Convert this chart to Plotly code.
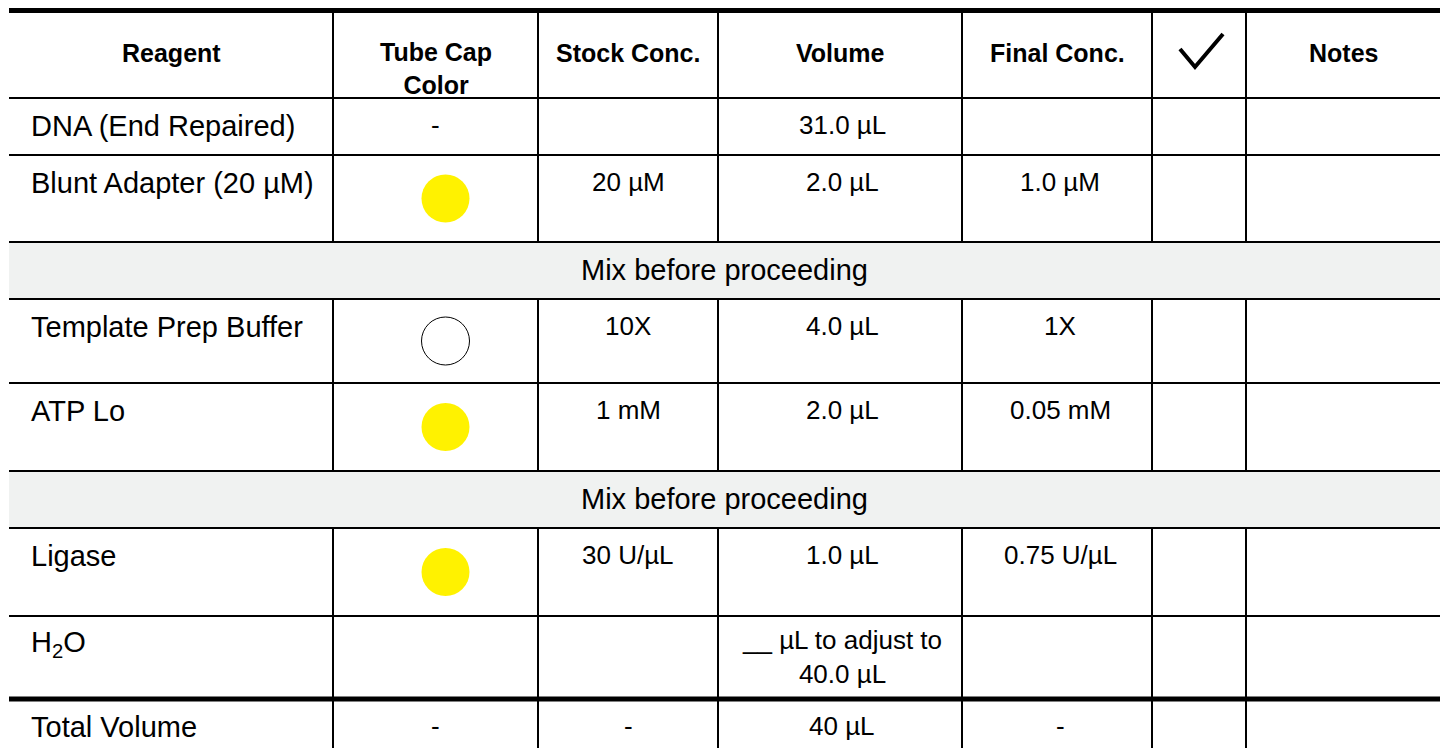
import plotly.graph_objects as go

# table content
headers = ["<b>Reagent</b>", "<b>Tube Cap<br>Color</b>", "<b>Stock Conc.</b>", "<b>Volume</b>",
           "<b>Final Conc.</b>", "check", "<b>Notes</b>"]
reagents = ["DNA (End Repaired)", "Blunt Adapter (20 µM)", "Template Prep Buffer", "ATP Lo",
            "Ligase", "H<sub>2</sub>O", "Total Volume"]
cap_colors = ["-", "#FFF200", "#FFFFFF", "#FFF200", "#FFF200", "", "-"]
stock_conc = ["", "20 µM", "10X", "1 mM", "30 U/µL", "", "-"]
volumes = ["31.0 µL", "2.0 µL", "4.0 µL", "2.0 µL", "1.0 µL", "__ µL to adjust to<br>40.0 µL", "40 µL"]
final_conc = ["", "1.0 µM", "1X", "0.05 mM", "0.75 U/µL", "", "-"]
mix_note = "Mix before proceeding"
mix_after = [1, 3]  # a "mix" row follows these reagents

# geometry (pixels)
W, H = 1440, 748
col_edges = [9, 333, 538, 718, 962, 1152, 1246, 1440]
table_top = 13
header_height = 85
row_heights = [57, 87, 84, 88, 88, 83, 60]
mix_height = 57

FONT = "Liberation Sans, Arial, sans-serif"
LINE = "#000000"
MIX_FILL = "#F0F2F1"

fig = go.Figure()
shapes = []
annotations = []


def col_center(i):
    return (col_edges[i] + col_edges[i + 1]) / 2


def hline(y, width):
    shapes.append(dict(type="line", x0=col_edges[0], x1=col_edges[-1], y0=y, y1=y,
                       line=dict(color=LINE, width=width)))


def vlines(y0, y1):
    for x in col_edges[1:-1]:
        shapes.append(dict(type="line", x0=x, x1=x, y0=y0, y1=y1,
                           line=dict(color=LINE, width=2)))


def text(x, y, s, size, xanchor="center", yanchor="middle"):
    annotations.append(dict(x=x, y=y, text=s, showarrow=False, xanchor=xanchor, yanchor=yanchor,
                            font=dict(family=FONT, size=size, color="#000000"), align="center"))


# header
y = table_top
hline(y - 2.5, 5)
vlines(y, y + header_height)
for i, h in enumerate(headers):
    if h == "check":
        # tick icon in the "done" column header
        cx, cy = col_center(i), y + 39
        shapes.append(dict(type="path",
                           path=f"M {cx - 19},{cy - 3} L {cx - 4},{cy + 15} L {cx + 24},{cy - 18}",
                           line=dict(color="#000000", width=4)))
    elif "<br>" in h:
        text(col_center(i), y + 55, h, 25)
    else:
        text(col_center(i), y + 40, h, 25)
y += header_height

circle_x, circle_y, circle_fill = [], [], []
for r, name in enumerate(reagents):
    top, h = y, row_heights[r]
    if r == len(reagents) - 1:
        hline(top, 5)
    else:
        hline(top, 2)
    vlines(top, top + h)
    text(col_edges[0] + 20, top + 28, name, 29, xanchor="left")
    cap = cap_colors[r]
    if cap.startswith("#"):
        circle_x.append(col_center(1) + 10)
        circle_y.append(top + h / 2)
        circle_fill.append(cap)
    elif cap:
        text(col_center(1), top + 27, cap, 26)
    if stock_conc[r]:
        text(col_center(2), top + 27, stock_conc[r], 26)
    if "<br>" in volumes[r]:
        text(col_center(3) + 2, top + 41, volumes[r], 26)
    else:
        text(col_center(3) + 2, top + 27, volumes[r], 26)
    if final_conc[r]:
        text(col_center(4) + 3, top + 27, final_conc[r], 26)
    y += h
    if r in mix_after:
        hline(y, 2)
        shapes.append(dict(type="rect", x0=col_edges[0], x1=col_edges[-1], y0=y, y1=y + mix_height,
                           fillcolor=MIX_FILL, line=dict(width=0), layer="below"))
        text((col_edges[0] + col_edges[-1]) / 2, y + 28, mix_note, 29)
        y += mix_height

fig.add_trace(go.Scatter(
    x=circle_x, y=circle_y, mode="markers", hoverinfo="skip",
    marker=dict(size=48, color=circle_fill, line=dict(color="#000000",
                width=[1 if c == "#FFFFFF" else 0 for c in circle_fill])),
))

fig.update_layout(
    width=W, height=H,
    margin=dict(l=0, r=0, t=0, b=0),
    paper_bgcolor="white", plot_bgcolor="white",
    showlegend=False,
    xaxis=dict(range=[0, W], visible=False, fixedrange=True),
    yaxis=dict(range=[H, 0], visible=False, fixedrange=True),
    shapes=shapes, annotations=annotations,
)

# drop the browser's default page margin so the figure sits at the window origin
fig.write_html("out.html", config={"displayModeBar": False},
               post_script="document.body.style.margin='0';document.body.style.overflow='hidden';")
